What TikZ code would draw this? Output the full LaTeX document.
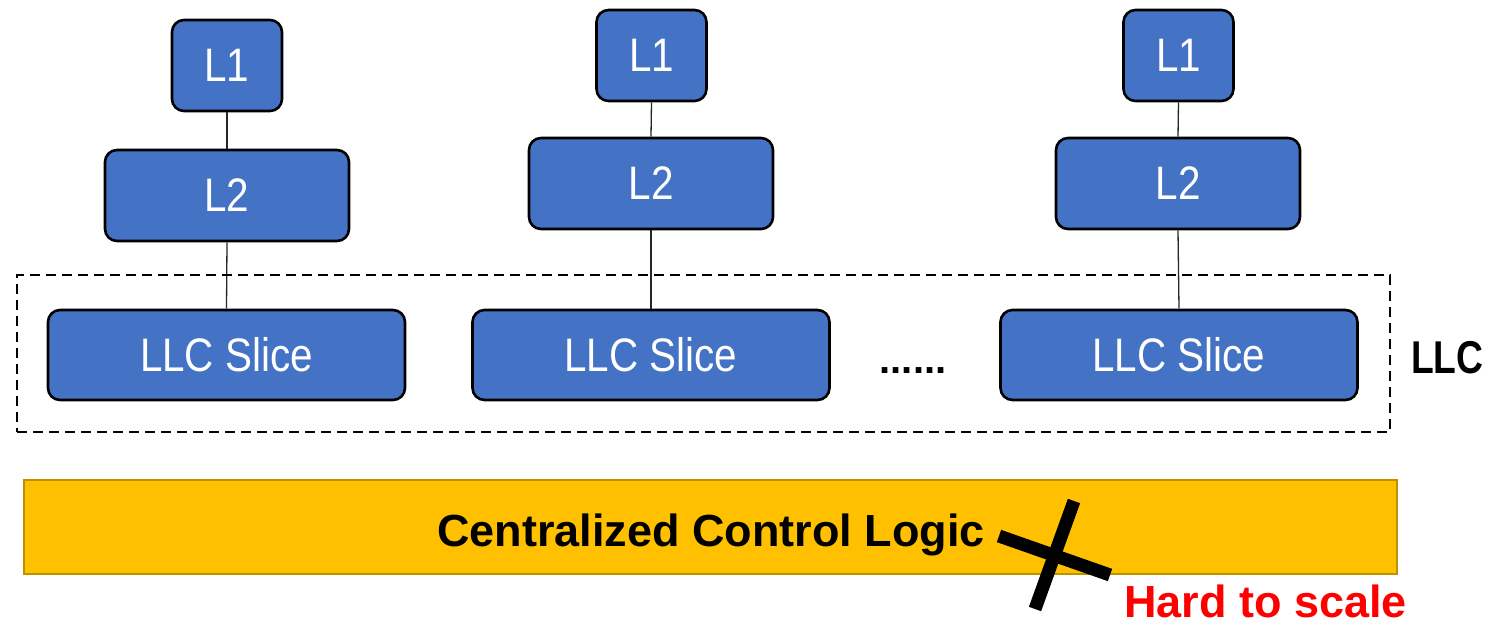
\documentclass[tikz,border=0pt]{standalone}
\usepackage{fontspec}
\setmainfont{Liberation Sans}
\newfontfamily\slimfont[FakeStretch=0.86]{Liberation Sans}
\newfontfamily\narrowfont[FakeStretch=0.81]{Liberation Sans}
\definecolor{cacheblue}{HTML}{4472C4}
\definecolor{ctrlgold}{HTML}{FFC000}
\definecolor{ctrledge}{HTML}{BF9000}
\definecolor{warnred}{HTML}{FF0000}
\tikzset{
  cachebox/.style={draw=black, line width=2.6pt, fill=cacheblue, rounded corners=12pt,
    text=white, inner sep=0pt, font=\slimfont\fontsize{47}{50}\selectfont},
  link/.style={draw=black!85, line width=1.3pt},
  group/.style={draw=black, line width=2.8pt, dash pattern=on 10pt off 6pt, inner sep=0pt},
  crossbar/.style={draw=black, line width=13pt}
}
\begin{document}
\begin{tikzpicture}[x=1pt, y=-1pt]
  \useasboundingbox (0,0) rectangle (1491,625);

  % per-core private caches and shared LLC slices
  \node[cachebox, minimum width=110pt, minimum height=91pt] (a1) at (227,65.5) {L1};
  \node[cachebox, minimum width=244pt, minimum height=91pt] (a2) at (227,195.5) {L2};
  \node[cachebox, minimum width=357pt, minimum height=90pt] (a3) at (226.5,355) {LLC Slice};

  \node[cachebox, minimum width=110pt, minimum height=91pt] (b1) at (651.5,55.5) {L1};
  \node[cachebox, minimum width=244pt, minimum height=91pt] (b2) at (651,183.5) {L2};
  \node[cachebox, minimum width=357pt, minimum height=90pt] (b3) at (651,355) {LLC Slice};

  \node[cachebox, minimum width=110pt, minimum height=91pt] (c1) at (1178.5,55.5) {L1};
  \node[cachebox, minimum width=244pt, minimum height=91pt] (c2) at (1178,183.5) {L2};
  \node[cachebox, minimum width=357pt, minimum height=90pt] (c3) at (1179,355) {LLC Slice};

  \foreach \k in {a,b,c} {
    \draw[link] (\k1.south) -- (\k2.north);
    \draw[link] (\k2.south) -- (\k3.north);
  }

  % dashed boundary of the last-level cache
  \node[group, minimum width=1373pt, minimum height=157pt] (llc) at (703.5,353.5) {};
  \node[anchor=base west, inner sep=0pt, font=\narrowfont\bfseries\fontsize{46}{50}\selectfont]
    (llclabel) at (1411,373) {LLC};
  \node[anchor=base, inner sep=0pt, font=\bfseries\fontsize{40}{44}\selectfont]
    (dots) at (913,373) {......};

  % centralized controller
  \node[draw=ctrledge, line width=2.5pt, fill=ctrlgold, minimum width=1373pt, minimum height=94pt,
    inner sep=0pt] (ctrl) at (710.5,527) {};
  \node[anchor=base, inner sep=0pt, font=\bfseries\fontsize{45}{50}\selectfont]
    (ctrltext) at (711,546) {Centralized Control Logic};

  % cross-out mark
  \coordinate (x1s) at (999,536);
  \coordinate (x1e) at (1110,575);
  \coordinate (x2s) at (1074,501);
  \coordinate (x2e) at (1035,609);
  \draw[crossbar] (x1s) -- (x1e);
  \draw[crossbar] (x2s) -- (x2e);
  \node[anchor=base west, inner sep=0pt, text=warnred, font=\bfseries\fontsize{45}{50}\selectfont]
    (warn) at (1124,617) {Hard to scale};
\end{tikzpicture}
\end{document}
